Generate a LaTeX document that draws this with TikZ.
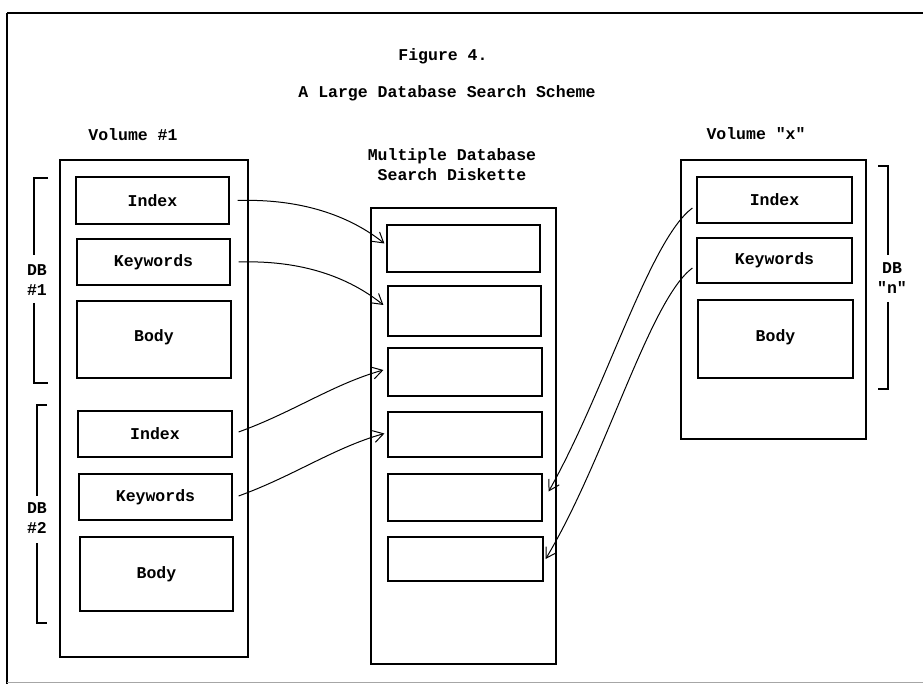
\documentclass[tikz,border=0pt]{standalone}
\usepackage{fontspec}
\setmonofont{Liberation Mono}
\usetikzlibrary{arrows.meta}
\begin{document}
\begin{tikzpicture}[x=1pt,y=-1pt,
  txt/.style={font=\fontsize{16.5}{20}\selectfont\ttfamily\bfseries, inner sep=0pt, align=center},
  box/.style={draw, line width=1.2pt, inner sep=0pt, font=\fontsize{16.5}{20}\selectfont\ttfamily\bfseries},
  conn/.style={line width=1pt, -{Straight Barb[length=10pt,width=12pt,line width=1pt]}},
  brk/.style={line width=1.2pt}]
\useasboundingbox (0,0) rectangle (923,684);
% frame
\draw[line width=2pt] (7,13) -- (923,13);
\draw[line width=1.4pt] (7,13) -- (7,684);
\draw[line width=0.6pt, black!35] (7,682) -- (923,682);
% titles
\node[txt] (fig) at (443,56) {Figure 4.};
\node[txt] (title) at (447,93) {A Large Database Search Scheme};
\node[txt] (v1) at (133,135) {Volume \#1};
\node[txt] (vx) at (756,134) {Volume "x"};
\node[txt] (md) at (452,165) {Multiple Database\\Search Diskette};
% left volume
\node[box, minimum width=188pt, minimum height=497pt] (lv) at (154,408.5) {};
\node[box, minimum width=153pt, minimum height=47pt] (i1) at (152.5,200.5) {Index};
\node[box, minimum width=153pt, minimum height=46pt] (k1) at (153.5,262) {Keywords};
\node[box, minimum width=154pt, minimum height=77pt] (b1) at (154,339.5) {\raisebox{7pt}{Body}};
\node[box, minimum width=154pt, minimum height=46pt] (i2) at (155,434) {Index};
\node[box, minimum width=153pt, minimum height=46pt] (k2) at (155.5,497) {Keywords};
\node[box, minimum width=153pt, minimum height=74pt] (b2) at (156.5,574) {\raisebox{3pt}{Body}};
% diskette
\node[box, minimum width=185pt, minimum height=456pt] (dk) at (463.5,436) {};
\node[box, minimum width=153pt, minimum height=47pt] (s1) at (463.5,248.5) {};
\node[box, minimum width=153pt, minimum height=50pt] (s2) at (464.5,311) {};
\node[box, minimum width=154pt, minimum height=48pt] (s3) at (465,372) {};
\node[box, minimum width=154pt, minimum height=45pt] (s4) at (465,434.5) {};
\node[box, minimum width=154pt, minimum height=47pt] (s5) at (465,497.5) {};
\node[box, minimum width=155pt, minimum height=44pt] (s6) at (465.5,559) {};
% right volume
\node[box, minimum width=185pt, minimum height=279pt] (rv) at (773.5,299.5) {};
\node[box, minimum width=155pt, minimum height=46pt] (ri) at (774.5,200) {Index};
\node[box, minimum width=155pt, minimum height=45pt] (rk) at (774.5,260.5) {Keywords};
\node[box, minimum width=155pt, minimum height=78pt] (rb) at (775.5,339) {\raisebox{7pt}{Body}};
% brackets
\node[txt] (db1) at (37,280) {DB\\\#1};
\draw[brk] (48,178) -- (34,178) -- (34,255);
\draw[brk] (34,303) -- (34,383) -- (48,383);
\node[txt] (db2) at (37,518) {DB\\\#2};
\draw[brk] (47,405) -- (37,405) -- (37,496);
\draw[brk] (37,543) -- (37,623) -- (47,623);
\node[txt] (dbn) at (892,278) {DB\\"n"};
\draw[brk] (878,166) -- (888,166) -- (888,255);
\draw[brk] (888,302) -- (888,389) -- (878,389);
% connectors
\draw[conn] ([xshift=8pt]i1.east) .. controls +(63,-2) and +(-35,-28) .. ([xshift=-2pt,yshift=5pt]s1.west);
\draw[conn] ([xshift=8pt]k1.east) .. controls +(63,-2) and +(-35,-28) .. ([xshift=-4pt,yshift=6pt]s2.west);
\draw[conn] ([xshift=6pt,yshift=2pt]i2.east) .. controls +(55,-20) and +(-50,14) .. ([xshift=-4pt,yshift=2pt]s3.west);
\draw[conn] ([xshift=6pt,yshift=1pt]k2.east) .. controls +(55,-20) and +(-50,14) .. ([xshift=-3pt,yshift=1pt]s4.west);
\draw[conn] ([xshift=-4pt,yshift=-8pt]ri.west) .. controls +(-43,32) and +(57,-101) .. ([xshift=6pt,yshift=6pt]s5.east);
\draw[conn] ([xshift=-4pt,yshift=-7.5pt]rk.west) .. controls +(-43,32) and +(60,-100) .. ([xshift=2pt]s6.east);
\end{tikzpicture}
\end{document}
